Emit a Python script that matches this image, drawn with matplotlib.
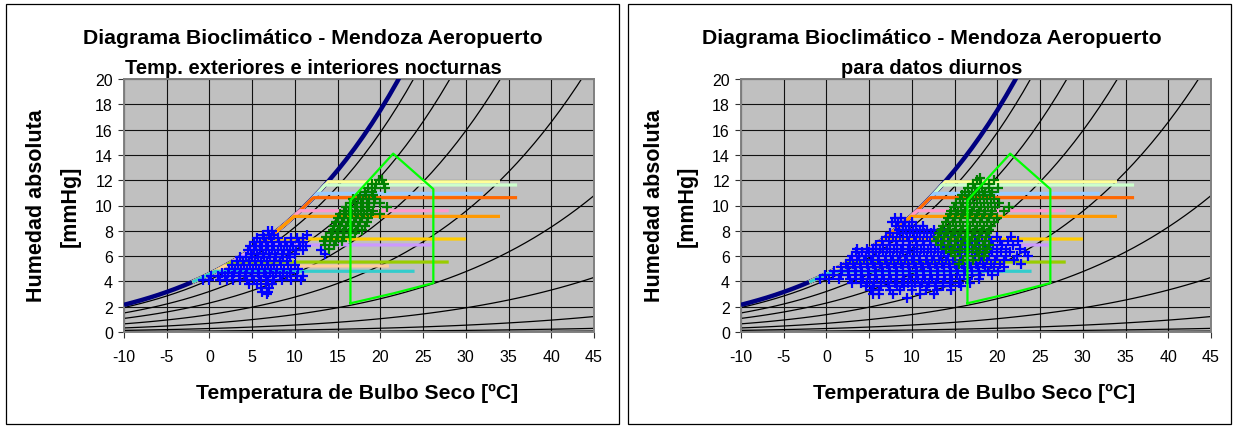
import matplotlib
matplotlib.use("Agg")
import matplotlib.pyplot as plt
from matplotlib.patches import Rectangle

plt.rcParams['font.family'] = ['Liberation Sans', 'DejaVu Sans']
plt.rcParams['axes.unicode_minus'] = False

W, H = 1236, 427

# ---------------- data ----------------
temps_c = list(range(-10, 46))
sat_mmhg = [2.149, 2.326, 2.514, 2.715, 2.931, 3.163, 3.410, 3.673, 3.956, 4.258,
            4.579, 4.926, 5.294, 5.685, 6.101, 6.543, 7.013, 7.513, 8.045, 8.609,
            9.209, 9.844, 10.518, 11.231, 11.987, 12.788, 13.634, 14.530, 15.477, 16.477,
            17.535, 18.650, 19.827, 21.068, 22.377, 23.756, 25.209, 26.739, 28.349, 30.043,
            31.824, 33.695, 35.663, 37.729, 39.898, 42.175, 44.563, 47.067, 49.692, 52.442,
            55.324, 58.34, 61.50, 64.80, 68.26, 71.88]
rh_curves = [0.9, 0.7, 0.5, 0.3, 0.15, 0.06, 0.017, 0.004, 0.001]

band_levels = [11.88, 11.62, 10.96, 10.62, 9.59, 9.14, 7.35, 6.88, 5.53, 5.22, 4.80]
band_knee_T = [13.9, 13.5, 12.6, 12.2, 10.6, 9.9, 6.7, 5.8, 2.6, 1.8, 0.7]
band_end_T = [34, 36, 32, 36, 28, 34, 30, 26, 28, 21, 24]
band_start_T = -2

comfort_T = [16.5, 16.5, 21.5, 26.2, 26.2, 21.5, 16.5]
comfort_H = [2.27, 10.4, 14.1, 11.3, 3.87, 3.05, 2.27]

x_ticks = [-10, -5, 0, 5, 10, 15, 20, 25, 30, 35, 40, 45]
y_ticks = [0, 2, 4, 6, 8, 10, 12, 14, 16, 18, 20]

title_main = "Diagrama Bioclimático - Mendoza Aeropuerto"
subtitles = ["Temp. exteriores e interiores nocturnas", "para datos diurnos"]
xlabel_txt = "Temperatura de Bulbo Seco [ºC]"
ylabel_txt = ["Humedad absoluta", "[mmHg]"]

# scatter rows: (humidity, [temperatures])
night_out_rows = [
    (8.0, [6.8, 7.3]),
    (7.7, [6.3, 7.0, 7.6, 11.4]),
    (7.4, [5.6, 6.4, 7.2, 8.0, 9.5, 10.3, 10.9]),
    (7.1, [5.2, 5.9, 6.6, 7.3, 8.1, 8.8, 9.6, 10.5, 11.0]),
    (6.8, [4.8, 5.5, 6.2, 6.9, 7.6, 8.4, 9.1, 9.8, 10.6, 11.3]),
    (6.5, [4.5, 5.2, 5.9, 6.6, 7.3, 8.0, 8.7, 9.4, 10.1, 10.9, 13.0]),
    (6.2, [4.9, 5.6, 6.3, 7.0, 7.7, 8.5, 9.2, 10.0, 13.5]),
    (5.9, [3.6, 4.3, 5.0, 5.7, 6.4, 7.1, 7.8, 8.6, 9.4]),
    (5.6, [3.2, 3.9, 4.6, 5.3, 6.0, 6.7, 7.5, 8.3, 9.1]),
    (5.3, [2.6, 3.3, 4.0, 4.7, 5.4, 6.1, 6.8, 7.6, 8.4, 9.2, 10.0]),
    (5.0, [2.3, 3.0, 3.7, 4.4, 5.1, 5.8, 6.5, 7.2, 7.9, 8.7, 9.6, 10.4]),
    (4.7, [1.5, 2.2, 2.9, 3.6, 4.3, 5.0, 5.7, 6.4, 7.1, 7.8, 8.6, 9.4]),
    (4.4, [0.2, 1.0, 1.8, 2.6, 3.4, 4.2, 5.0, 5.8, 6.6, 7.4, 8.2, 9.1, 10.2, 11.0]),
    (4.1, [-0.8, 0.0, 1.2, 2.0, 2.8, 3.6, 4.4, 5.2, 6.0, 6.8, 7.6, 8.5, 9.5, 10.7]),
    (3.8, [4.6, 5.6, 6.6, 7.3]),
    (3.5, [6.0, 7.0]),
    (3.2, [6.2, 6.9]),
    (3.0, [6.7]),
]

night_in_rows = [
    (12.0, [19.8, 20.2]),
    (11.7, [19.0, 19.5, 20.4]),
    (11.4, [18.6, 19.4, 20.6]),
    (11.1, [18.2, 19.0]),
    (10.8, [17.6, 18.3, 19.1]),
    (10.5, [16.8, 17.4, 18.0, 18.7, 19.4]),
    (10.2, [16.4, 17.0, 17.7, 18.4, 19.2, 20.0]),
    (9.9, [16.0, 16.6, 17.3, 18.0, 18.7, 20.8]),
    (9.6, [15.7, 16.3, 17.0, 17.7, 18.4, 19.1]),
    (9.3, [15.3, 16.0, 16.7, 17.4, 18.1, 18.9, 20.0]),
    (9.0, [15.0, 15.7, 16.4, 17.1, 17.8, 18.6]),
    (8.7, [14.8, 15.5, 16.2, 16.9, 17.6, 18.4]),
    (8.4, [14.6, 15.3, 16.0, 16.7, 17.4, 18.2]),
    (8.1, [14.4, 15.1, 15.8, 16.5, 17.2, 17.9]),
    (7.8, [14.2, 14.9, 15.6, 16.3, 17.0]),
    (7.5, [13.6, 14.3, 15.0, 15.7, 16.4]),
    (7.2, [13.4, 14.1, 14.8, 15.5]),
    (6.9, [13.5, 14.6]),
    (6.6, [14.0]),
]

day_out_rows = [
    (9.0, [8.0, 8.7]),
    (8.7, [7.7, 8.4, 9.2, 10.0]),
    (8.4, [8.1, 8.9, 9.7, 10.5, 11.3]),
    (8.1, [8.5, 9.3, 10.1, 10.9, 11.8, 12.6, 13.4]),
    (7.8, [7.4, 8.2, 9.0, 9.8, 10.6, 11.4, 12.2, 13.0, 13.8]),
    (7.5, [7.0, 7.8, 8.6, 9.4, 10.2, 11.0, 11.8, 12.6, 13.4, 14.2, 15.0, 15.8, 16.6, 17.4, 18.2, 19.0, 20.0, 21.6]),
    (7.2, [6.5, 7.3, 8.1, 8.9, 9.7, 10.5, 11.3, 12.1, 12.9, 13.7, 14.5, 15.3, 16.1, 16.9, 17.7, 18.5, 19.3, 20.3, 21.2, 22.4]),
    (6.9, [5.8, 6.6, 7.4, 8.2, 9.0, 9.8, 10.6, 11.4, 12.2, 13.0, 13.8, 14.6, 15.4, 16.2, 17.0, 17.8, 18.6, 19.5, 20.6, 21.8]),
    (6.6, [3.6, 4.7, 5.5, 6.3, 7.1, 7.9, 8.7, 9.5, 10.3, 11.1, 11.9, 12.7, 13.5, 14.3, 15.1, 15.9, 16.7, 17.5, 18.3, 19.1, 20.0, 21.0, 22.6]),
    (6.3, [3.4, 4.2, 5.0, 5.8, 6.6, 7.4, 8.2, 9.0, 9.8, 10.6, 11.4, 12.2, 13.0, 13.8, 14.6, 15.4, 16.2, 17.0, 17.8, 18.6, 19.4, 20.4, 21.5, 23.2]),
    (6.0, [3.0, 3.8, 4.6, 5.4, 6.2, 7.0, 7.8, 8.6, 9.4, 10.2, 11.0, 11.8, 12.6, 13.4, 14.2, 15.0, 15.8, 16.6, 17.4, 18.2, 19.0, 19.9, 21.0, 22.3, 23.6]),
    (5.7, [2.8, 3.6, 4.4, 5.2, 6.0, 6.8, 7.6, 8.4, 9.2, 10.0, 10.8, 11.6, 12.4, 13.2, 14.0, 14.8, 15.6, 16.4, 17.2, 18.0, 18.8, 19.7, 20.8, 22.0]),
    (5.4, [2.3, 3.1, 3.9, 4.7, 5.5, 6.3, 7.1, 7.9, 8.7, 9.5, 10.3, 11.1, 11.9, 12.7, 13.5, 14.3, 15.1, 15.9, 16.7, 17.5, 18.3, 19.2, 20.3, 22.8]),
    (5.1, [1.7, 2.5, 3.3, 4.1, 4.9, 5.7, 6.5, 7.3, 8.1, 8.9, 9.7, 10.5, 11.3, 12.1, 12.9, 13.7, 14.5, 15.3, 16.1, 16.9, 17.7, 18.6, 19.6, 20.8]),
    (4.8, [0.9, 1.8, 2.6, 3.4, 4.2, 5.0, 5.8, 6.6, 7.4, 8.2, 9.0, 9.8, 10.6, 11.4, 12.2, 13.0, 13.8, 14.6, 15.4, 16.2, 17.0, 17.9, 18.9, 20.1]),
    (4.5, [-0.2, 0.8, 1.7, 2.5, 3.3, 4.1, 4.9, 5.7, 6.5, 7.3, 8.1, 8.9, 9.7, 10.5, 11.3, 12.1, 12.9, 13.7, 14.5, 15.3, 16.1, 17.0, 18.0, 19.4]),
    (4.2, [-0.8, 0.3, 1.5, 2.7, 3.5, 4.3, 5.1, 5.9, 6.7, 7.5, 8.3, 9.1, 9.9, 10.7, 11.5, 12.3, 13.1, 13.9, 14.7, 15.6, 16.6, 17.8]),
    (3.9, [3.0, 4.0, 4.8, 5.6, 6.4, 7.2, 8.0, 8.8, 9.6, 10.4, 11.2, 12.0, 12.8, 13.6, 14.5, 15.5, 16.8]),
    (3.6, [4.6, 5.5, 6.4, 7.3, 8.2, 9.1, 10.0, 10.9, 11.8, 12.7, 13.6, 14.6, 15.8]),
    (3.3, [5.2, 6.2, 7.4, 8.6, 10.0, 11.6, 12.9, 14.6]),
    (3.0, [5.4, 6.2, 7.8, 10.9, 12.6]),
    (2.7, [9.4]),
]

day_in_rows = [
    (12.2, [18.0]),
    (12.0, [17.6, 19.6]),
    (11.7, [17.2, 18.1, 19.0]),
    (11.4, [16.6, 17.4, 18.2, 19.0, 20.1]),
    (11.1, [16.2, 17.0, 17.8, 18.6, 19.4]),
    (10.8, [15.9, 16.7, 17.5, 18.3, 19.1]),
    (10.5, [15.6, 16.4, 17.2, 18.0, 18.8, 19.6]),
    (10.2, [15.2, 16.0, 16.8, 17.6, 18.4, 19.2, 20.2]),
    (9.9, [14.9, 15.7, 16.5, 17.3, 18.1, 18.9, 19.7, 21.4]),
    (9.6, [14.6, 15.4, 16.2, 17.0, 17.8, 18.6, 19.4, 20.8]),
    (9.3, [14.4, 15.2, 16.0, 16.8, 17.6, 18.4, 19.2]),
    (9.0, [14.2, 15.0, 15.8, 16.6, 17.4, 18.2, 19.0, 19.9]),
    (8.7, [14.0, 14.8, 15.6, 16.4, 17.2, 18.0, 18.8, 19.6]),
    (8.4, [13.6, 14.4, 15.2, 16.0, 16.8, 17.6, 18.4, 19.2]),
    (8.1, [13.4, 14.2, 15.0, 15.8, 16.6, 17.4, 18.2, 19.0]),
    (7.8, [13.2, 14.0, 14.8, 15.6, 16.4, 17.2, 18.0, 18.8]),
    (7.5, [13.0, 13.8, 14.6, 15.4, 16.2, 17.0, 17.8, 18.7]),
    (7.2, [12.8, 13.6, 14.4, 15.2, 16.0, 16.8, 17.6, 18.5]),
    (6.9, [13.4, 14.2, 15.0, 15.8, 16.6, 17.4, 18.3, 19.0]),
    (6.6, [14.0, 14.8, 15.6, 16.4, 17.2, 18.0, 18.8]),
    (6.3, [14.6, 15.6, 16.6, 17.6, 18.6]),
    (6.0, [15.0, 16.4, 17.8, 18.4]),
    (5.7, [16.0, 17.2]),
    (5.4, [15.5]),
]

# ---------------- styles ----------------
band_colors = ['#FFFF99', '#CCFFCC', '#99CCFF', '#FF6600', '#FF99CC', '#FF9900',
               '#FFCC00', '#CC99FF', '#99CC00', '#FFCC99', '#33CCCC']


def expand(rows):
    xs, ys = [], []
    for h, ts in rows:
        for t in ts:
            xs.append(t)
            ys.append(h)
    return xs, ys


fig = plt.figure(figsize=(W / 100, H / 100), dpi=100)
fig.patch.set_facecolor('white')


def px_rect(x0, y0, x1, y1):
    return [x0 / W, 1 - y1 / H, (x1 - x0) / W, (y1 - y0) / H]


# panel frames
for (x0, x1) in [(5.5, 619.5), (627.5, 1230.5)]:
    r = Rectangle((x0 / W, 1 - 424.5 / H), (x1 - x0) / W, 420 / H,
                  transform=fig.transFigure, fill=False, edgecolor='black', lw=0.9)
    fig.patches.append(r)

panels = [
    (124, night_out_rows, night_in_rows, subtitles[0], 313),
    (741, day_out_rows, day_in_rows, subtitles[1], 932),
]

for left_px, out_rows, in_rows, subtitle, title_x in panels:
    ax = fig.add_axes(px_rect(left_px, 80, left_px + 470, 333))
    ax.set_facecolor('#C0C0C0')
    ax.set_xlim(-10, 45)
    ax.set_ylim(0, 20)
    ax.set_xticks(x_ticks)
    ax.set_yticks(y_ticks)
    ax.set_axisbelow(True)
    ax.grid(True, color='#111111', lw=0.8)
    for s in ax.spines.values():
        s.set_color('#808080')
        s.set_linewidth(1.4)
    ax.tick_params(axis='both', labelsize=11.5, direction='out', length=4, width=0.8,
                   color='#333333')
    ax.tick_params(axis='x', pad=8)
    ax.tick_params(axis='y', pad=4)

    # relative humidity curves
    for rh in rh_curves:
        ax.plot(temps_c, [rh * v for v in sat_mmhg], color='black', lw=0.9, zorder=2)
    # saturation curve
    ax.plot(temps_c, sat_mmhg, color='#000080', lw=3.2, zorder=3, solid_capstyle='butt')

    # coloured bands
    for lvl, knee, end, col in zip(band_levels, band_knee_T, band_end_T, band_colors):
        xs = [t for t in temps_c if band_start_T <= t < knee]
        ys = [sat_mmhg[temps_c.index(t)] for t in xs]
        xs = xs + [knee, end]
        ys = ys + [lvl, lvl]
        ax.plot(xs, ys, color=col, lw=2.3, zorder=4, solid_capstyle='butt')

    ox, oy = expand(out_rows)
    ix, iy = expand(in_rows)
    ax.plot(ox, oy, linestyle='none', marker='+', ms=6.5, mew=1.6, color='#0000FF', zorder=5)
    ax.plot(ix, iy, linestyle='none', marker='+', ms=6.5, mew=1.6, color='#008000', zorder=6)

    ax.plot(comfort_T, comfort_H, color='#00FF00', lw=1.6, zorder=7)

    # texts
    fig.text(title_x / W, 1 - 38.5 / H, title_main, ha='center', va='center',
             fontsize=15.3, fontweight='bold')
    fig.text(title_x / W, 1 - 68 / H, subtitle, ha='center', va='center',
             fontsize=14.5, fontweight='bold')
    fig.text((left_px + 233) / W, 1 - 393 / H, xlabel_txt, ha='center', va='center',
             fontsize=15.2, fontweight='bold')
    fig.text((left_px - 87) / W, 1 - 206 / H, ylabel_txt[0], ha='center', va='center',
             rotation=90, fontsize=15.5, fontweight='bold')
    fig.text((left_px - 54) / W, 1 - 206 / H, ylabel_txt[1], ha='center', va='center',
             rotation=90, fontsize=15.5, fontweight='bold')

fig.savefig('out.png', dpi=100)
